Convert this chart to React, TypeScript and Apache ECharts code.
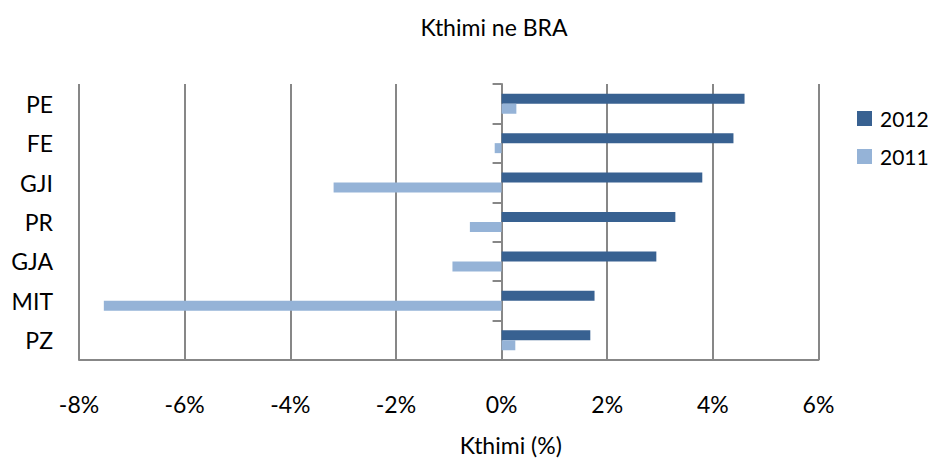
import React, { useEffect, useRef } from "react";
import * as echarts from "echarts";

const categories = ["PE", "FE", "GJI", "PR", "GJA", "MIT", "PZ"];
const values2012 = [4.6, 4.39, 3.8, 3.29, 2.93, 1.76, 1.68];
const values2011 = [0.28, -0.13, -3.18, -0.6, -0.93, -7.53, 0.26];
const xTicksMin = -8;
const xTicksMax = 6;
const xTickStep = 2;

const FONT = "Lato, 'Open Sans', sans-serif";
const GRID_COLOR = "#878787";

export default function App() {
  const ref = useRef<HTMLDivElement>(null);
  useEffect(() => {
    const chart = echarts.init(ref.current!, undefined, { renderer: "svg" });
    chart.setOption({
      animation: false,
      backgroundColor: "#ffffff",
      title: {
        text: "Kthimi ne BRA",
        left: 489,
        top: 10,
        textAlign: "center",
        textStyle: { fontFamily: FONT, fontSize: 23, fontWeight: "normal", color: "#000" },
      },
      legend: {
        data: ["2012", "2011"],
        orient: "vertical",
        left: 852,
        top: 103,
        itemWidth: 15,
        itemHeight: 15,
        itemGap: 17,
        icon: "rect",
        textStyle: { fontFamily: FONT, fontSize: 21, color: "#000", padding: [0, 0, 0, 3] },
      },
      grid: { left: 79, right: 109.5, top: 84, bottom: 97.5, containLabel: false },
      xAxis: {
        type: "value",
        min: xTicksMin,
        max: xTicksMax,
        interval: xTickStep,
        name: "Kthimi (%)",
        nameLocation: "middle",
        nameGap: 73,
        nameTextStyle: { fontFamily: FONT, fontSize: 23, color: "#000", padding: [0, 0, 0, 124] },
        axisLine: { show: true, lineStyle: { color: GRID_COLOR, width: 2 } },
        axisTick: { show: false },
        splitLine: { show: true, lineStyle: { color: GRID_COLOR, width: 2 } },
        axisLabel: {
          formatter: (v: number) => `${v}%`,
          margin: 32,
          fontFamily: FONT,
          fontSize: 23,
          color: "#000",
        },
      },
      yAxis: [
        {
          type: "category",
          data: categories,
          inverse: true,
          position: "left",
          axisLine: { show: false, onZero: false },
          axisTick: { show: false },
          axisLabel: { margin: 26, fontFamily: FONT, fontSize: 23, color: "#000" },
        },
        {
          type: "category",
          data: categories,
          inverse: true,
          position: "left",
          axisLine: { show: true, onZero: true, lineStyle: { color: GRID_COLOR, width: 2 } },
          axisTick: { show: true, length: 9, lineStyle: { color: GRID_COLOR, width: 2 } },
          axisLabel: { show: false },
        },
      ],
      series: [
        {
          name: "2012",
          type: "bar",
          yAxisIndex: 0,
          data: values2012,
          barWidth: 10,
          barGap: "0%",
          itemStyle: { color: "#386191" },
        },
        {
          name: "2011",
          type: "bar",
          yAxisIndex: 0,
          data: values2011,
          barWidth: 10,
          barGap: "0%",
          itemStyle: { color: "#95B3D7" },
        },
      ],
    });
    return () => chart.dispose();
  }, []);
  return (
    <div
      ref={ref}
      style={{ position: "absolute", left: 0, top: 0, width: 928, height: 461 }}
    />
  );
}
